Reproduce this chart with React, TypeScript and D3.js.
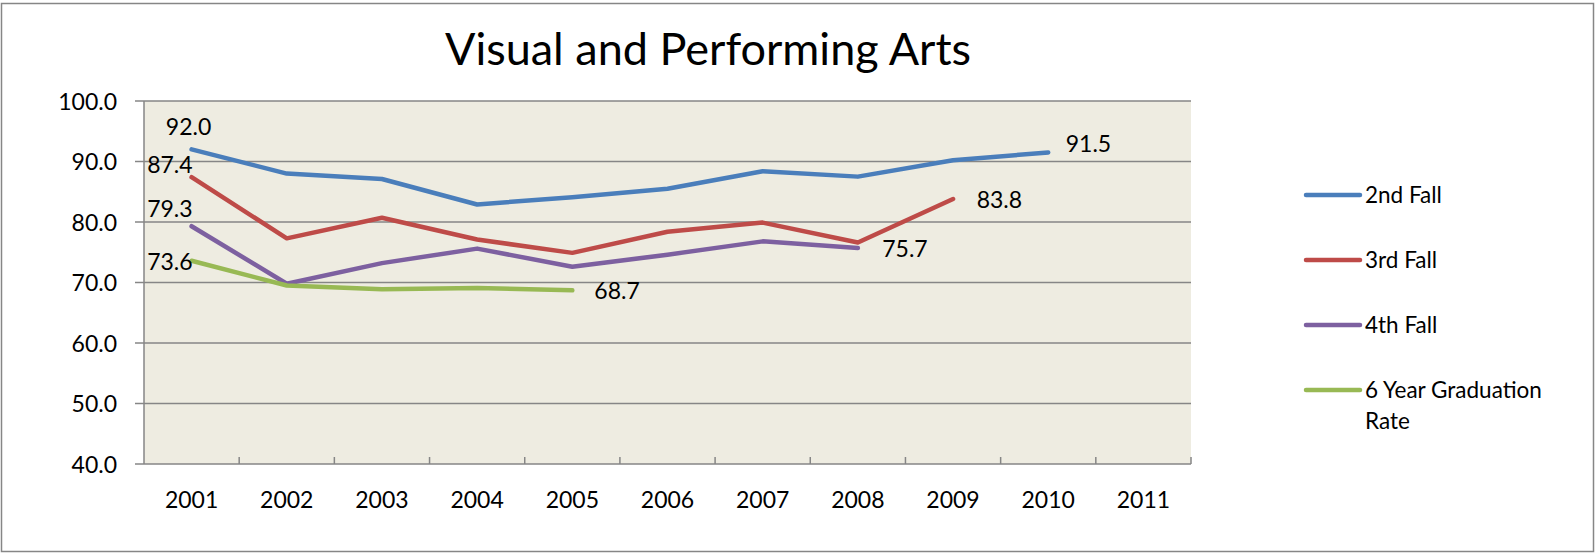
import React from "react";
import * as d3 from "d3";

const years = ["2001", "2002", "2003", "2004", "2005", "2006", "2007", "2008", "2009", "2010", "2011"];
const secondFall: (number | null)[] = [92.0, 88.0, 87.1, 82.9, 84.1, 85.5, 88.4, 87.5, 90.2, 91.5, null];
const thirdFall: (number | null)[] = [87.4, 77.3, 80.7, 77.1, 74.9, 78.4, 79.9, 76.6, 83.8, null, null];
const fourthFall: (number | null)[] = [79.3, 69.8, 73.2, 75.6, 72.6, 74.6, 76.8, 75.7, null, null, null];
const gradRate: (number | null)[] = [73.6, 69.5, 68.9, 69.1, 68.7, null, null, null, null, null, null];
const yTicks = [40, 50, 60, 70, 80, 90, 100];
const seriesNames = ["2nd Fall", "3rd Fall", "4th Fall", "6 Year Graduation Rate"];
const seriesValues = [secondFall, thirdFall, fourthFall, gradRate];
const colors = ["#4A7EBB", "#BE4B48", "#7D60A0", "#98B954"];

// label placement (style only)
const firstLabelStyle = [
  { anchor: "middle", dx: -3, dy: -14 },
  { anchor: "end", dx: 1, dy: -4 },
  { anchor: "end", dx: 1, dy: -9.5 },
  { anchor: "end", dx: 1, dy: 9 },
];
const lastLabelStyle = [
  { anchor: "start", dx: 17.5, dy: -0.7 },
  { anchor: "start", dx: 23.6, dy: 9.3 },
  { anchor: "start", dx: 24.4, dy: 8.7 },
  { anchor: "start", dx: 22, dy: 9 },
];

const W = 1596;
const H = 553;
const plot = { left: 144, right: 1191, top: 101, bottom: 464 };
const FONT = "Lato, 'Open Sans', sans-serif";
const GRID = "#868686";

export default function App() {
  const x = d3.scaleBand<string>().domain(years).range([plot.left, plot.right]).padding(0);
  const y = d3.scaleLinear().domain([40, 100]).range([plot.bottom, plot.top]);
  const cx = (yr: string) => (x(yr) as number) + x.bandwidth() / 2;

  const line = d3
    .line<number | null>()
    .defined((d) => d != null)
    .x((_, i) => cx(years[i]))
    .y((d) => y(d as number));

  const legendX1 = 1306;
  const legendX2 = 1360;
  const legendTextX = 1365;
  const legendYs = [195, 260, 325, 390];

  return (
    <svg
      width={W}
      height={H}
      style={{ position: "absolute", left: 0, top: 0, display: "block" }}
      fontFamily={FONT}
    >
      <rect x={0} y={0} width={W} height={H} fill="#ffffff" />
      <rect x={1.5} y={3.5} width={1592} height={548} fill="#ffffff" stroke={GRID} strokeWidth={1.5} />

      <text x={708} y={65} textAnchor="middle" fontSize={45} fill="#000">
        Visual and Performing Arts
      </text>

      <rect
        x={plot.left}
        y={plot.top}
        width={plot.right - plot.left}
        height={plot.bottom - plot.top}
        fill="#EEECE1"
      />

      {yTicks.map((t) => (
        <g key={t}>
          {t !== 40 && (
            <line x1={plot.left} x2={plot.right} y1={y(t)} y2={y(t)} stroke={GRID} strokeWidth={1.5} />
          )}
          <line x1={plot.left - 9} x2={plot.left} y1={y(t)} y2={y(t)} stroke={GRID} strokeWidth={1.5} />
          <text x={117} y={y(t) + 8.5} textAnchor="end" fontSize={23} fill="#000">
            {t.toFixed(1)}
          </text>
        </g>
      ))}

      <line x1={plot.left} x2={plot.left} y1={plot.top} y2={plot.bottom} stroke={GRID} strokeWidth={1.5} />
      <line x1={plot.left} x2={plot.right} y1={plot.bottom} y2={plot.bottom} stroke={GRID} strokeWidth={1.5} />
      {years.map((yr) => (
        <line
          key={"t" + yr}
          x1={(x(yr) as number) + x.bandwidth()}
          x2={(x(yr) as number) + x.bandwidth()}
          y1={plot.bottom - 7}
          y2={plot.bottom}
          stroke={GRID}
          strokeWidth={1.5}
        />
      ))}
      {years.map((yr) => (
        <text key={"l" + yr} x={cx(yr)} y={508} textAnchor="middle" fontSize={23} fill="#000">
          {yr}
        </text>
      ))}

      {seriesValues.map((vals, si) => (
        <path
          key={"s" + si}
          d={line(vals) || ""}
          fill="none"
          stroke={colors[si]}
          strokeWidth={4.5}
          strokeLinecap="round"
          strokeLinejoin="round"
        />
      ))}

      {seriesValues.map((vals, si) => {
        const idx = vals.map((v, i) => (v != null ? i : -1)).filter((i) => i >= 0);
        const fi = idx[0];
        const li = idx[idx.length - 1];
        const fs = firstLabelStyle[si];
        const ls = lastLabelStyle[si];
        return (
          <g key={"dl" + si}>
            <text
              x={cx(years[fi]) + fs.dx}
              y={y(vals[fi] as number) + fs.dy}
              textAnchor={fs.anchor as any}
              fontSize={23}
              fill="#000"
            >
              {(vals[fi] as number).toFixed(1)}
            </text>
            <text
              x={cx(years[li]) + ls.dx}
              y={y(vals[li] as number) + ls.dy}
              textAnchor={ls.anchor as any}
              fontSize={23}
              fill="#000"
            >
              {(vals[li] as number).toFixed(1)}
            </text>
          </g>
        );
      })}

      {seriesNames.map((name, i) => (
        <g key={"lg" + i}>
          <line
            x1={legendX1}
            x2={legendX2}
            y1={legendYs[i]}
            y2={legendYs[i]}
            stroke={colors[i]}
            strokeWidth={4.5}
            strokeLinecap="round"
          />
          {i < 3 ? (
            <text x={legendTextX} y={legendYs[i] + 8} fontSize={22.5} fill="#000">
              {name}
            </text>
          ) : (
            <text x={legendTextX} y={legendYs[i] + 8} fontSize={22.5} fill="#000">
              <tspan x={legendTextX}>6 Year Graduation</tspan>
              <tspan x={legendTextX} dy={31}>
                Rate
              </tspan>
            </text>
          )}
        </g>
      ))}
    </svg>
  );
}
